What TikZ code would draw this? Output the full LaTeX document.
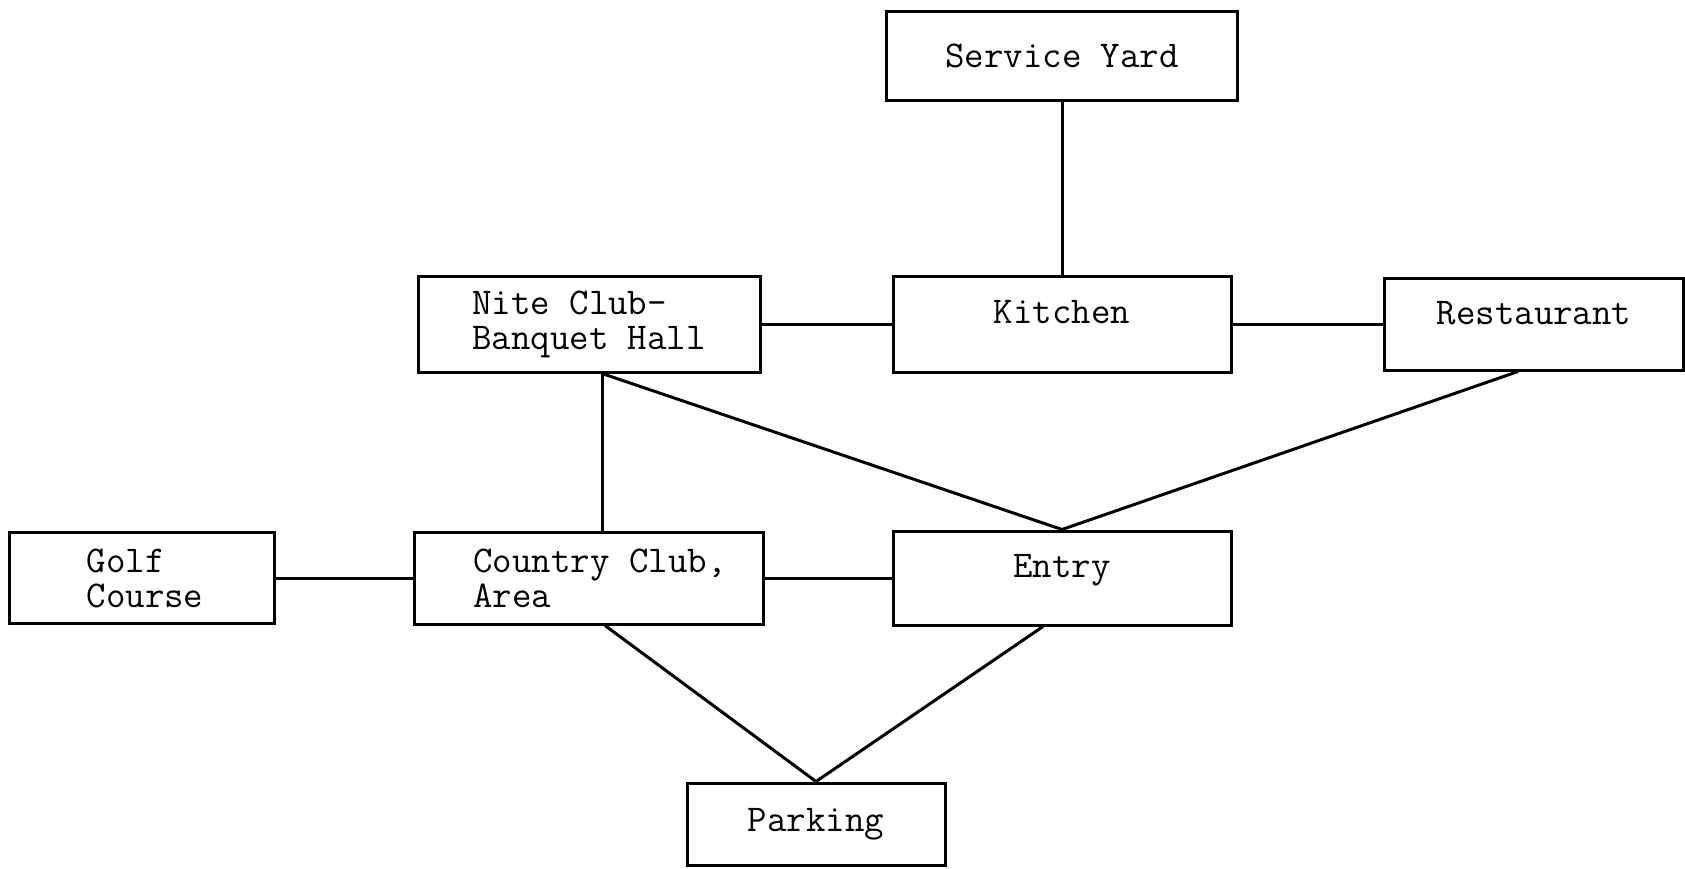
\documentclass[tikz,border=0pt]{standalone}
\usepackage{tikz}
\tikzset{node distance=236.5pt, auto,
	room/.style={draw, line width=1.5pt, inner sep=0pt, align=left,
		font=\ttfamily\fontsize{18.9pt}{17.5pt}\selectfont}}

\begin{document}
\begin{tikzpicture}[auto, node distance=236.5pt, line width=1.5pt]
		\useasboundingbox (0,0) rectangle (842.5pt,-434pt);
		\node(K)[room, minimum width=169pt, minimum height=48pt, text depth=12pt] at (531pt,-162pt){Kitchen};
		\node(S)[room, above of=K, node distance=134pt, minimum width=175.5pt, minimum height=44.5pt]{Service Yard};
		\node(N)[room, left of=K, minimum width=171pt, minimum height=48pt]{Nite Club-\\Banquet Hall};
		\node(R)[room, right of=K, node distance=236pt, minimum width=149.5pt, minimum height=46pt, text depth=11pt]{Restaurant};
		\node(E)[room, below of=K, node distance=127pt, minimum width=169pt, minimum height=47pt, text depth=12pt]{Entry};
		\node(C)[room, left of=E, minimum width=174.5pt, minimum height=46pt]{\hspace*{11pt}Country Club,\\\hspace*{11pt}Area};
		\node(G)[room, left of=C, node distance=223.5pt, minimum width=132.5pt, minimum height=45.5pt]{\hspace*{3pt}Golf\\\hspace*{3pt}Course};
		\node(P)[room, below of=C, node distance=123pt, xshift=113.5pt, minimum width=129pt, minimum height=41pt]{Parking};
		\draw(S) to (K);
		\draw(N) to (K);
		\draw(K) to (R);
		\draw([xshift=6.5pt]N.south) to ([xshift=6.5pt]C.north);
		\draw([xshift=6.5pt]N.south) to (E.north);
		\draw([xshift=-8pt]R.south) to (E.north);
		\draw(G) to (C);
		\draw(C) to (E);
		\draw([xshift=8pt]C.south) to (P.north);
		\draw([xshift=-9.5pt]E.south) to (P.north);
	\end{tikzpicture}
\end{document}
